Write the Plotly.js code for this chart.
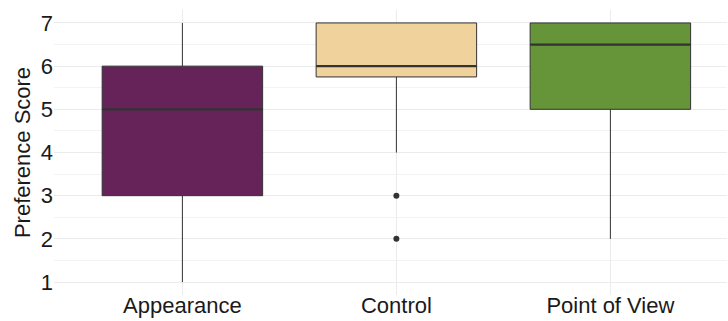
<!DOCTYPE html>
<html>
<head>
<meta charset="utf-8">
<script src="https://cdn.plot.ly/plotly-3.0.1.min.js"></script>
<style>html,body{margin:0;padding:0;background:#fff;}#chart{width:728px;height:321px;}</style>
</head>
<body>
<div id="chart"></div>
<script>
var categories = ['Appearance', 'Control', 'Point of View'];
var lowerWhisker = [1, 4, 2];
var q1 = [3, 5.75, 5];
var medians = [5, 6, 6.5];
var q3 = [6, 7, 7];
var upperWhisker = [7, 7, 7];
var outlierCategory = ['Control', 'Control'];
var outlierValues = [3, 2];
var fillColors = ['#66235A', '#F0D39C', '#669438'];

var boxWidth = 0.75;
var edge = '#333333';
var traces = [];
categories.forEach(function (c, i) {
  traces.push({
    type: 'box',
    x: [i],
    q1: [q1[i]],
    median: [medians[i]],
    q3: [q3[i]],
    lowerfence: [lowerWhisker[i]],
    upperfence: [upperWhisker[i]],
    width: boxWidth,
    fillcolor: fillColors[i],
    line: {color: edge, width: 1},
    whiskerwidth: 0,
    showlegend: false,
    hoverinfo: 'skip'
  });
});
categories.forEach(function (c, i) {
  traces.push({
    type: 'scatter', mode: 'lines',
    x: [i - boxWidth / 2, i + boxWidth / 2],
    y: [medians[i], medians[i]],
    line: {color: edge, width: 2.2},
    showlegend: false, hoverinfo: 'skip'
  });
});
traces.push({
  type: 'scatter', mode: 'markers',
  x: outlierCategory.map(function (c) { return categories.indexOf(c); }),
  y: outlierValues,
  marker: {color: edge, size: 6},
  showlegend: false, hoverinfo: 'skip'
});

var layout = {
  width: 728, height: 321,
  margin: {l: 54, r: 1, t: 10, b: 26},
  paper_bgcolor: '#ffffff', plot_bgcolor: '#ffffff',
  font: {family: 'Liberation Sans, Arial, sans-serif', color: '#1a1a1a', size: 22},
  showlegend: false,
  xaxis: {
    range: [-0.6, 2.545],
    tickmode: 'array', tickvals: [0, 1, 2], ticktext: categories,
    showgrid: true, gridcolor: '#ebebeb', gridwidth: 1,
    zeroline: false, showline: false, ticks: '',
    ticklabelstandoff: -5,
    tickfont: {size: 22, color: '#1a1a1a'}
  },
  yaxis: {
    range: [0.7, 7.3],
    tickmode: 'array', tickvals: [1, 2, 3, 4, 5, 6, 7],
    showgrid: true, gridcolor: '#ebebeb', gridwidth: 1,
    minor: {tickvals: [1.5, 2.5, 3.5, 4.5, 5.5, 6.5], showgrid: true, gridcolor: '#f3f3f3', gridwidth: 1},
    zeroline: false, showline: false, ticks: '',
    tickfont: {size: 22, color: '#1a1a1a'},
    title: {text: 'Preference Score', font: {size: 22, color: '#1a1a1a'}, standoff: 4}
  }
};
Plotly.newPlot('chart', traces, layout, {displayModeBar: false, staticPlot: true});
</script>
</body>
</html>
